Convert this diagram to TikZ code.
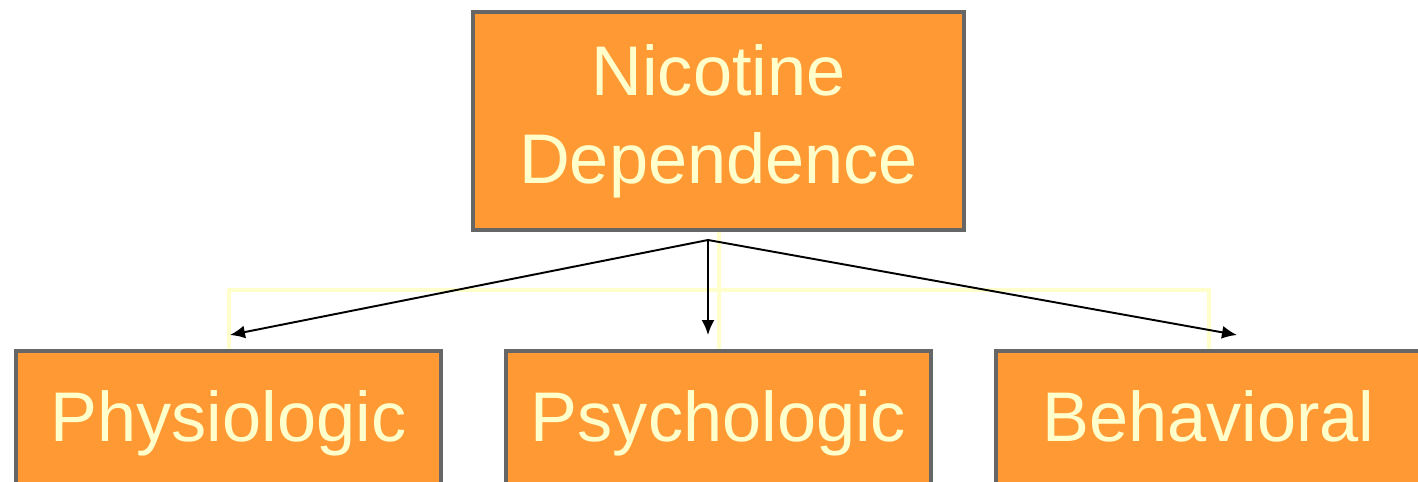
\documentclass[tikz,border=0pt]{standalone}
\usepackage{fontspec}
\setmainfont{Liberation Sans}
\usepackage{xcolor}
\usetikzlibrary{arrows,arrows.meta,shapes,positioning}
\definecolor{boxfill}{HTML}{FF9933}
\definecolor{boxline}{HTML}{666666}
\definecolor{boxtext}{HTML}{FFFFCC}

\begin{document}
\begin{tikzpicture}[node distance=1.22cm, auto, >={Latex[length=0.3cm,width=0.26cm]}]
  \tikzstyle{block}=[rectangle, draw=boxline, fill=boxfill, line width=0.08cm, text=boxtext, align=center, font=\fontsize{40}{50}\selectfont]
  \tikzstyle{small}=[minimum width=8.5cm, minimum height=2.68cm, text height=1.2cm, text depth=0.28cm]
  \tikzstyle{link}=[draw=boxtext, line width=0.08cm]
  \tikzstyle{pointer}=[->, line width=1.1pt]
  \clip (0,0) rectangle (28.36,-9.64);
  \node[block, minimum width=9.82cm, minimum height=4.36cm] (nicotine) at (14.37,-2.42) {Nicotine\\Dependence};
  \node[block, small, below=2.34cm of nicotine] (psycho) {Psychologic};
  \node[block, small, left=of psycho] (physio) {Physiologic};
  \node[block, small, right=of psycho] (behav) {Behavioral};
  \coordinate[below=1.16cm of nicotine.south] (bus);
  \draw[link] (nicotine.south) -- (psycho.north);
  \draw[link] (bus) -| (physio.north);
  \draw[link] (bus) -| (behav.north);
  \coordinate (hub) at ([xshift=-0.21cm, yshift=-0.16cm]nicotine.south);
  \coordinate (physiotip) at ([xshift=0.03cm, yshift=0.28cm]physio.north);
  \coordinate (psychotip) at ([xshift=-0.21cm, yshift=0.28cm]psycho.north);
  \coordinate (behavtip) at ([xshift=0.57cm, yshift=0.28cm]behav.north);
  \draw[pointer] (hub) -- (physiotip);
  \draw[pointer] (hub) -- (psychotip);
  \draw[pointer] (hub) -- (behavtip);
\end{tikzpicture}
\end{document}
